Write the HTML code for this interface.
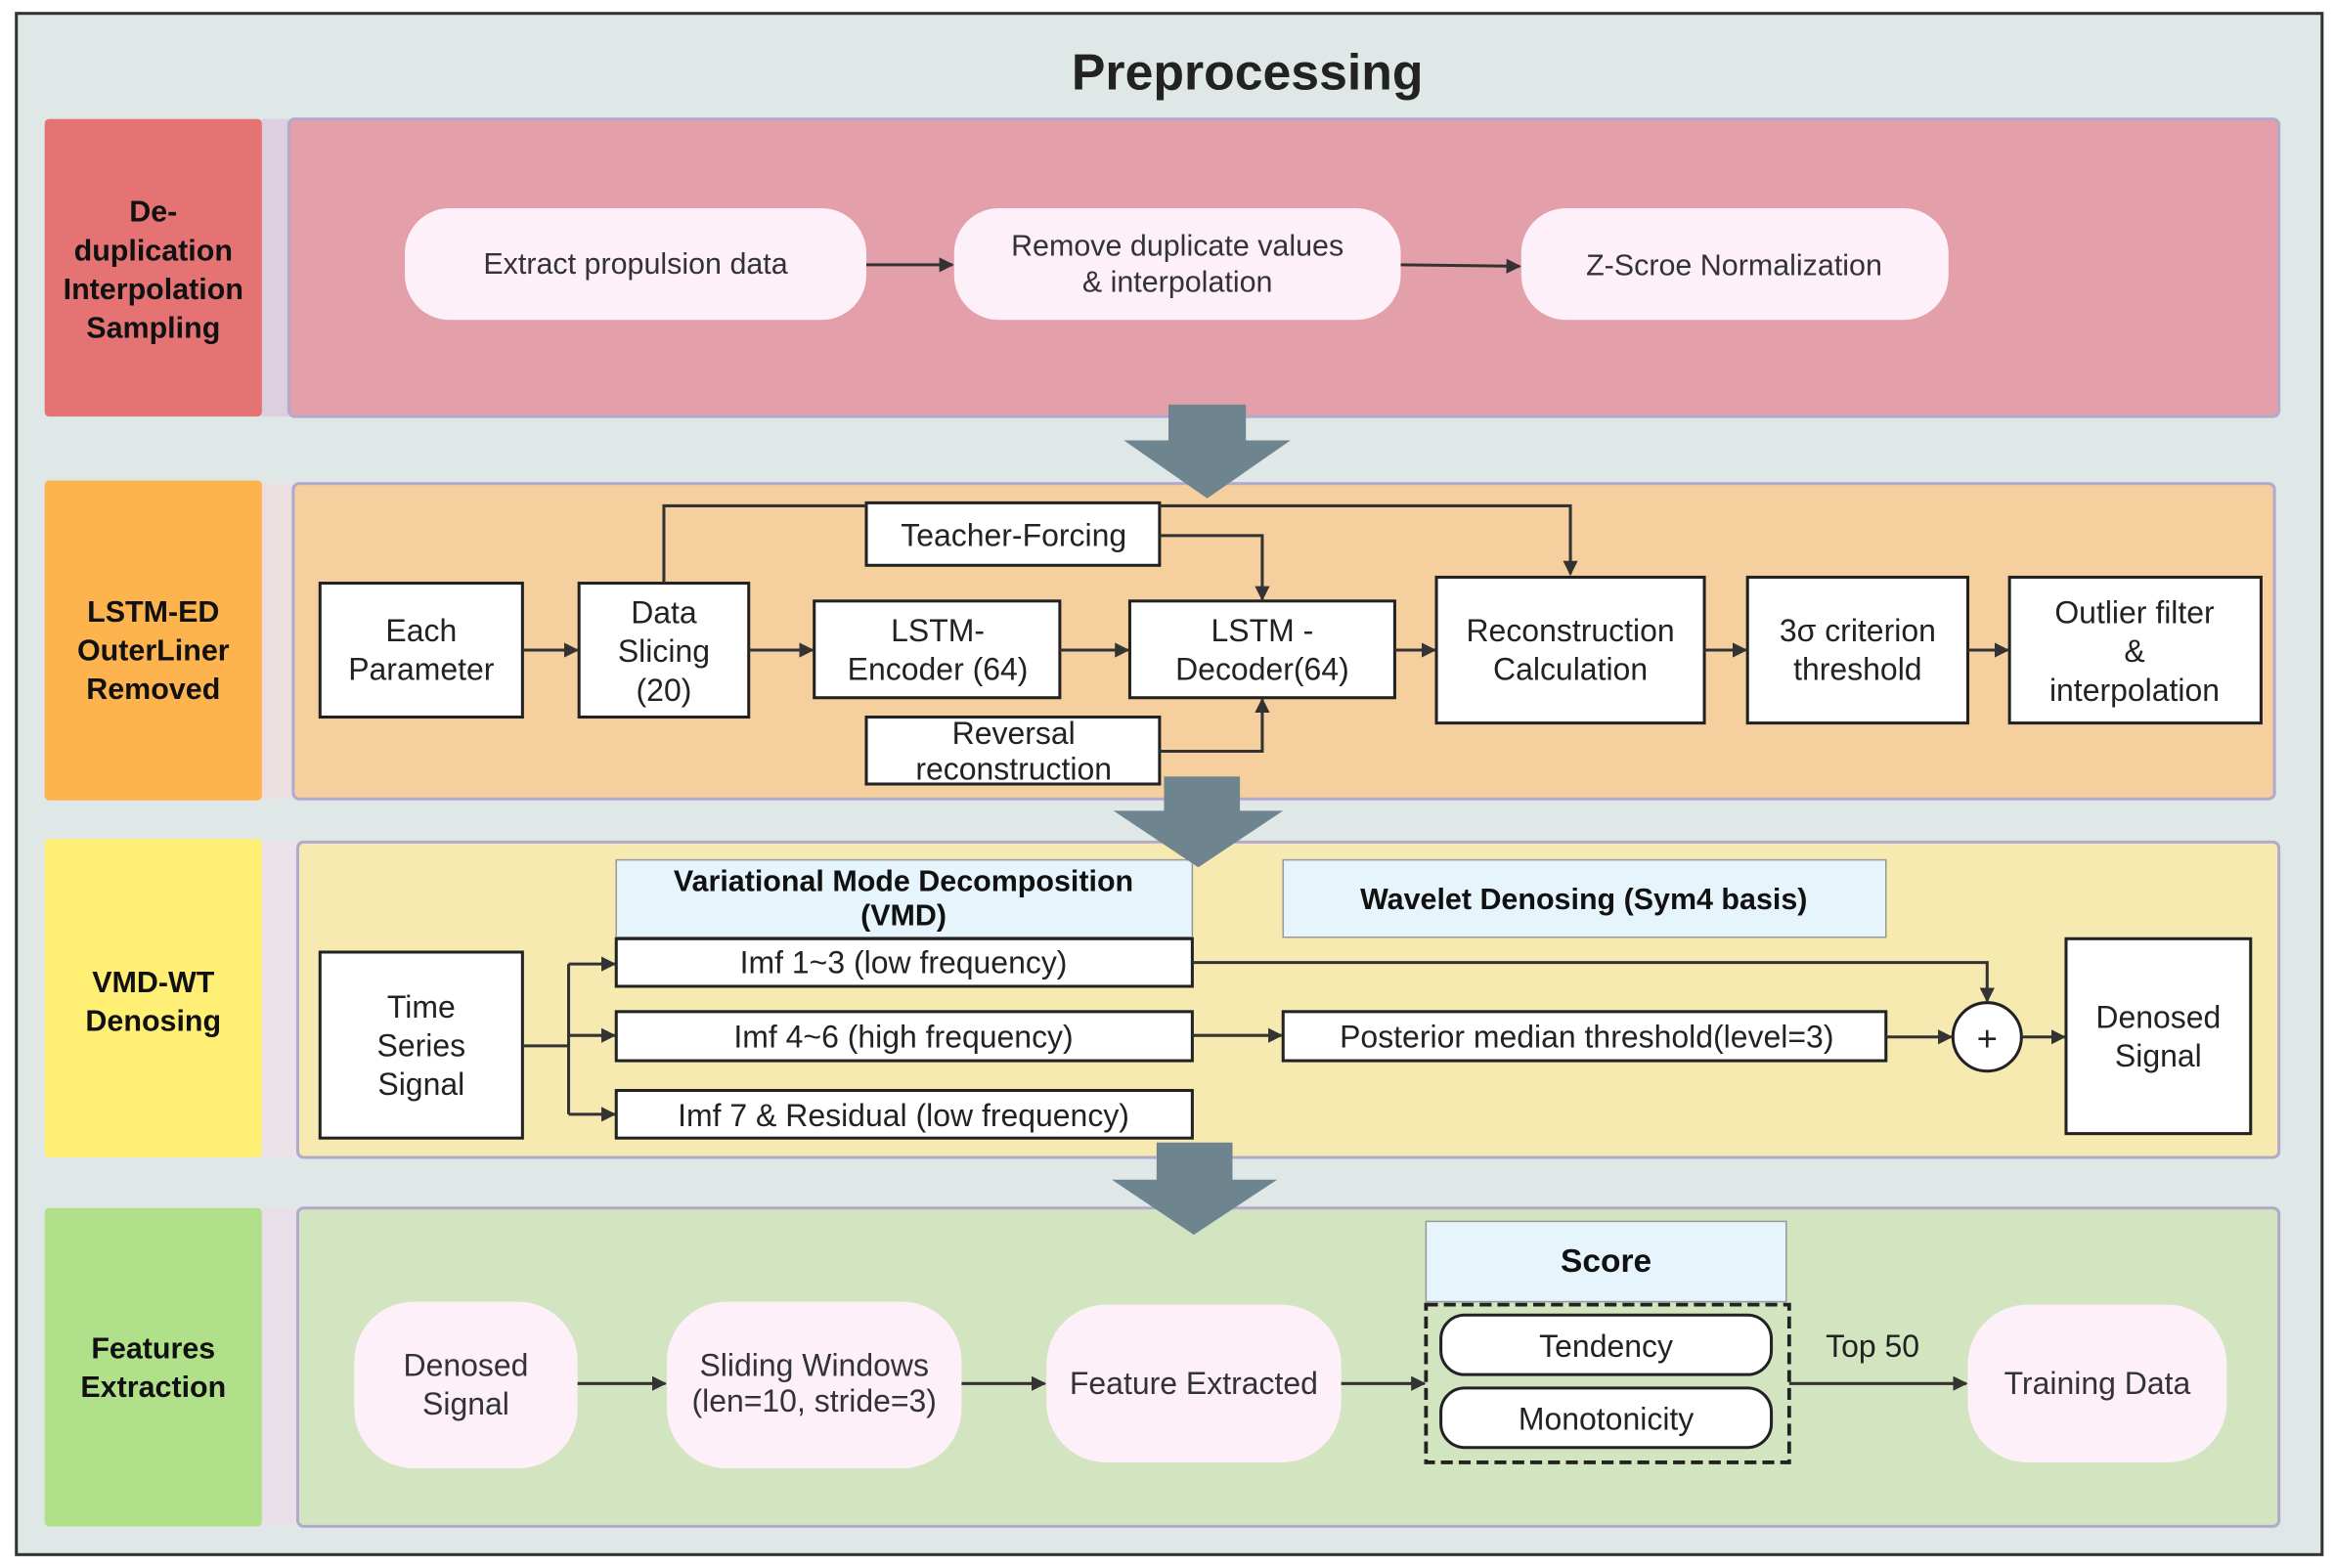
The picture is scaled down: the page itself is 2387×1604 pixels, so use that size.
<!DOCTYPE html>
<html><head><meta charset="utf-8"><style>html,body{margin:0;padding:0;background:#fff}svg{display:block}</style></head>
<body>
<svg width="2387" height="1604" viewBox="0 0 1568 1054" preserveAspectRatio="none" xmlns="http://www.w3.org/2000/svg" font-family="Liberation Sans, DejaVu Sans, sans-serif">
<defs>
<marker id="a" markerWidth="10" markerHeight="10" refX="9" refY="5" orient="auto" markerUnits="userSpaceOnUse"><path d="M0,0 L10,5 L0,10 z" fill="#333"/></marker>
<marker id="b" markerWidth="16" markerHeight="12" refX="15" refY="6" orient="auto" markerUnits="userSpaceOnUse"><path d="M0,0 L16,6 L0,12 z" fill="#333"/></marker>
</defs>
<rect x="0" y="0" width="1568" height="1054" fill="#fff"/>
<rect x="11" y="9" width="1549" height="1036" fill="#dfe8e6" stroke="#333" stroke-width="2"/>
<text x="838" y="60" font-size="34" font-weight="bold" text-anchor="middle" fill="#222">Preprocessing</text>

<g font-size="20" font-weight="bold" text-anchor="middle" fill="#111">
<rect x="30" y="80" width="146" height="200" rx="3" fill="#e57373"/>
<rect x="176" y="80" width="18" height="200" fill="#dccfe0"/>
<text x="103" y="149">De-</text><text x="103" y="175">duplication</text><text x="103" y="201">Interpolation</text><text x="103" y="227">Sampling</text>
<rect x="30" y="323" width="146" height="215" rx="3" fill="#fdb34e"/>
<rect x="176" y="325" width="21" height="212" fill="#ecdfe0"/>
<text x="103" y="418">LSTM-ED</text><text x="103" y="444">OuterLiner</text><text x="103" y="470">Removed</text>
<rect x="30" y="564" width="146" height="214" rx="3" fill="#fff075"/>
<rect x="176" y="566" width="24" height="212" fill="#ece3ea"/>
<text x="103" y="667">VMD-WT</text><text x="103" y="693">Denosing</text>
<rect x="30" y="812" width="146" height="214" rx="3" fill="#b0e18a"/>
<rect x="176" y="812" width="24" height="214" fill="#e7e0e8"/>
<text x="103" y="913">Features</text><text x="103" y="939">Extraction</text>
</g>

<!-- Row 1 -->
<rect x="194" y="80" width="1337" height="200" rx="4" fill="#e4a0aa" stroke="#b3a9cc" stroke-width="2"/>
<g fill="#fdf0f8" stroke="none">
<rect x="272" y="140" width="310" height="75" rx="30"/>
<rect x="641" y="140" width="300" height="75" rx="30"/>
<rect x="1022" y="140" width="287" height="75" rx="30"/>
</g>
<g font-size="20" text-anchor="middle" fill="#333">
<text x="427" y="184">Extract propulsion data</text>
<text x="791" y="172">Remove duplicate values</text><text x="791" y="196">&amp; interpolation</text>
<text x="1165" y="185">Z-Scroe Normalization</text>
</g>
<g stroke="#333" stroke-width="2" fill="none" marker-end="url(#a)">
<line x1="582" y1="178" x2="640" y2="178"/>
<line x1="941" y1="178" x2="1021" y2="179"/>
</g>

<!-- Row 2 -->
<rect x="197" y="325" width="1331" height="212" rx="4" fill="#f6cf9f" stroke="#b3a9cc" stroke-width="2"/>
<g fill="#fff" stroke="#222" stroke-width="2">
<rect x="215" y="392" width="136" height="90"/>
<rect x="389" y="392" width="114" height="90"/>
<rect x="547" y="404" width="165" height="65"/>
<rect x="759" y="404" width="178" height="65"/>
<rect x="965" y="388" width="180" height="98"/>
<rect x="1174" y="388" width="148" height="98"/>
<rect x="1350" y="388" width="169" height="98"/>
<rect x="582" y="338" width="197" height="42"/>
<rect x="582" y="482" width="197" height="45"/>
</g>
<g font-size="21" text-anchor="middle" fill="#222">
<text x="283" y="431">Each</text><text x="283" y="457">Parameter</text>
<text x="446" y="419">Data</text><text x="446" y="445">Slicing</text><text x="446" y="471">(20)</text>
<text x="630" y="431">LSTM-</text><text x="630" y="457">Encoder (64)</text>
<text x="848" y="431">LSTM -</text><text x="848" y="457">Decoder(64)</text>
<text x="1055" y="431">Reconstruction</text><text x="1055" y="457">Calculation</text>
<text x="1248" y="431">3σ criterion</text><text x="1248" y="457">threshold</text>
<text x="1434" y="419">Outlier filter</text><text x="1434" y="445">&amp;</text><text x="1434" y="471">interpolation</text>
<text x="681" y="367">Teacher-Forcing</text>
<text x="681" y="500">Reversal</text><text x="681" y="524">reconstruction</text>
</g>
<g stroke="#333" stroke-width="2" fill="none">
<polyline points="446,392 446,340 582,340"/>
<polyline points="779,340 1055,340 1055,386" marker-end="url(#a)"/>
<polyline points="779,360 848,360 848,403" marker-end="url(#a)"/>
<polyline points="779,505 848,505 848,470" marker-end="url(#a)"/>
<line x1="351" y1="437" x2="388" y2="437" marker-end="url(#a)"/>
<line x1="503" y1="437" x2="546" y2="437" marker-end="url(#a)"/>
<line x1="712" y1="437" x2="758" y2="437" marker-end="url(#a)"/>
<line x1="937" y1="437" x2="964" y2="437" marker-end="url(#a)"/>
<line x1="1145" y1="437" x2="1173" y2="437" marker-end="url(#a)"/>
<line x1="1322" y1="437" x2="1349" y2="437" marker-end="url(#a)"/>
</g>

<!-- Row 3 -->
<rect x="200" y="566" width="1331" height="212" rx="4" fill="#f6eab0" stroke="#b3a9cc" stroke-width="2"/>
<rect x="414" y="578" width="387" height="52" fill="#e6f4fb" stroke="#999" stroke-width="1"/>
<rect x="862" y="578" width="405" height="52" fill="#e6f4fb" stroke="#999" stroke-width="1"/>
<g fill="#fff" stroke="#222" stroke-width="2">
<rect x="414" y="631" width="387" height="32"/>
<rect x="414" y="680" width="387" height="33"/>
<rect x="414" y="733" width="387" height="32"/>
<rect x="215" y="640" width="136" height="125"/>
<rect x="862" y="680" width="405" height="33"/>
<rect x="1388" y="631" width="124" height="131"/>
<circle cx="1335" cy="697" r="23"/>
</g>
<g font-size="20" font-weight="bold" text-anchor="middle" fill="#111">
<text x="607" y="599">Variational Mode Decomposition</text><text x="607" y="622">(VMD)</text>
<text x="1064" y="611">Wavelet Denosing (Sym4 basis)</text>
</g>
<g font-size="21" text-anchor="middle" fill="#222">
<text x="607" y="654">Imf 1~3 (low frequency)</text>
<text x="607" y="704">Imf 4~6 (high frequency)</text>
<text x="607" y="757">Imf 7 &amp; Residual (low frequency)</text>
<text x="283" y="684">Time</text><text x="283" y="710">Series</text><text x="283" y="736">Signal</text>
<text x="1066" y="704">Posterior median threshold(level=3)</text>
<text x="1450" y="691">Denosed</text><text x="1450" y="717">Signal</text>
<text x="1335" y="706" font-size="24">+</text>
</g>
<g stroke="#333" stroke-width="2" fill="none">
<polyline points="351,703 382,703"/>
<line x1="382" y1="648" x2="382" y2="749"/>
<line x1="382" y1="648" x2="413" y2="648" marker-end="url(#a)"/>
<line x1="382" y1="696" x2="413" y2="696" marker-end="url(#a)"/>
<line x1="382" y1="749" x2="413" y2="749" marker-end="url(#a)"/>
<polyline points="801,647 1335,647 1335,673" marker-end="url(#a)"/>
<line x1="801" y1="696" x2="861" y2="696" marker-end="url(#a)"/>
<line x1="1267" y1="697" x2="1311" y2="697" marker-end="url(#a)"/>
<line x1="1358" y1="697" x2="1387" y2="697" marker-end="url(#a)"/>
</g>

<!-- Row 4 -->
<rect x="200" y="812" width="1331" height="214" rx="4" fill="#d3e5c0" stroke="#b3a9cc" stroke-width="2"/>
<g fill="#fdf0f8">
<rect x="238" y="875" width="150" height="112" rx="40"/>
<rect x="448" y="875" width="198" height="112" rx="40"/>
<rect x="703" y="877" width="198" height="106" rx="40"/>
<rect x="1322" y="877" width="174" height="106" rx="40"/>
</g>
<rect x="958" y="821" width="242" height="54" fill="#e6f4fb" stroke="#999" stroke-width="1"/>
<rect x="958" y="877" width="244" height="106" fill="none" stroke="#222" stroke-width="2.5" stroke-dasharray="8,4"/>
<rect x="968" y="884" width="222" height="40" rx="16" fill="#fff" stroke="#222" stroke-width="2"/>
<rect x="968" y="933" width="222" height="40" rx="16" fill="#fff" stroke="#222" stroke-width="2"/>
<g font-size="21" text-anchor="middle" fill="#333">
<text x="313" y="925">Denosed</text><text x="313" y="951">Signal</text>
<text x="547" y="925">Sliding Windows</text><text x="547" y="949">(len=10, stride=3)</text>
<text x="802" y="937">Feature Extracted</text>
<text x="1409" y="937">Training Data</text>
<text x="1079" y="912" fill="#222">Tendency</text>
<text x="1079" y="961" fill="#222">Monotonicity</text>
<text x="1258" y="912" fill="#222">Top 50</text>
<text x="1079" y="855" font-size="22" font-weight="bold" fill="#111">Score</text>
</g>
<g stroke="#333" stroke-width="2" fill="none" marker-end="url(#a)">
<line x1="388" y1="930" x2="447" y2="930"/>
<line x1="646" y1="930" x2="702" y2="930"/>
<line x1="901" y1="930" x2="957" y2="930"/>
<line x1="1202" y1="930" x2="1321" y2="930"/>
</g>

<!-- Big arrows -->
<g fill="#6e8590">
<path d="M785,272 H837 V296 H867 L811,335 L755,296 H785 Z"/>
<path d="M782,522 H833 V545 H862 L805,583 L748,545 H782 Z"/>
<path d="M777,768 H828 V793 H858 L802,830 L747,793 H777 Z"/>
</g>
</svg>
</body></html>
